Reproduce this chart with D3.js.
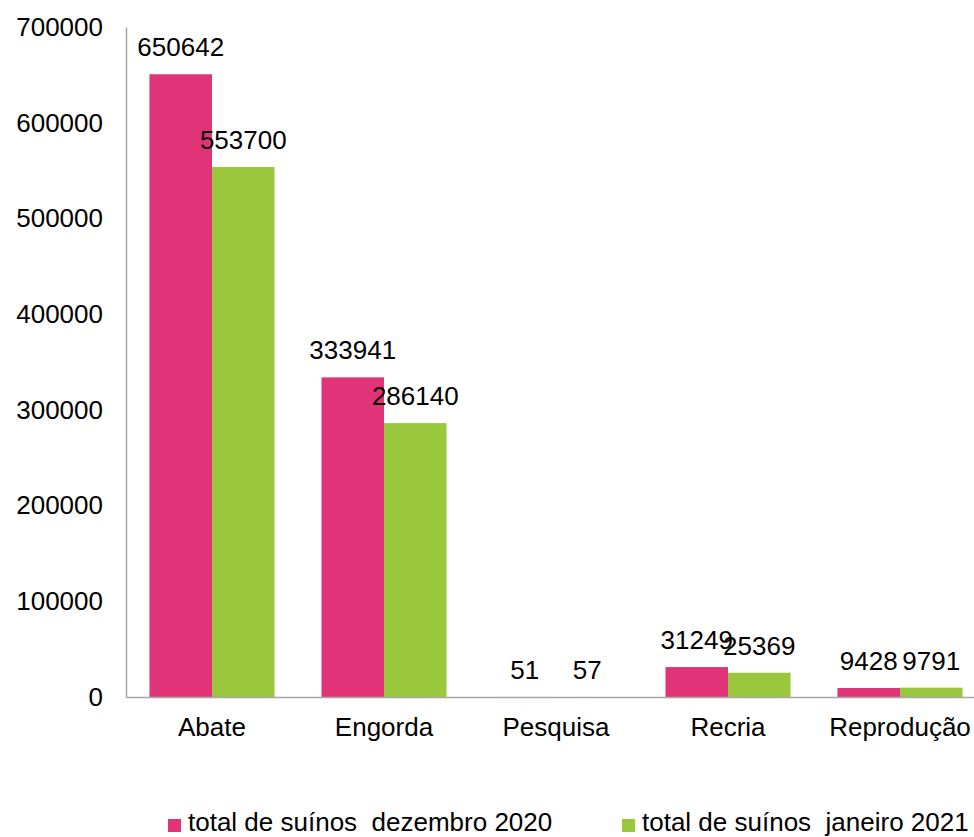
<!DOCTYPE html>
<html><head><meta charset="utf-8">
<script src="https://cdn.jsdelivr.net/npm/d3@7"></script>
<style>body{margin:0;background:#fff}svg{display:block}text{font-family:"Liberation Sans",Arial,sans-serif;fill:#000}</style>
</head><body>
<script>
const categories = ["Abate","Engorda","Pesquisa","Recria","Reprodução"];
const seriesNames = ["total de suínos  dezembro 2020","total de suínos  janeiro 2021"];
const dez2020 = [650642,333941,51,31249,9428];
const jan2021 = [553700,286140,57,25369,9791];
const yTicks = [0,100000,200000,300000,400000,500000,600000,700000];
const colors = ["#E03378","#9AC83D"];

const W=974,H=837;
const svg=d3.select("body").append("svg").attr("width",W).attr("height",H);
const x0=126,x1=986,y0=697,y1=27;
const x=d3.scaleBand().domain(categories).range([x0,x1]).paddingInner(0.273).paddingOuter(0.1365);
const xs=d3.scaleBand().domain([0,1]).range([0,x.bandwidth()]);
const y=d3.scaleLinear().domain([0,700000]).range([y0,y1]);
const series=[dez2020,jan2021];
const fs=26;

// y tick labels
const ya=d3.axisLeft(y).tickValues(yTicks).tickSize(0).tickPadding(23).tickFormat(d3.format("d"));
const gy=svg.append("g").attr("transform",`translate(${x0},0)`).call(ya);
gy.select(".domain").attr("stroke","#a6a6a6").attr("stroke-width",1.5);
gy.selectAll("text").attr("font-size",fs).attr("font-family","Liberation Sans, Arial, sans-serif").attr("fill","#000");

// bars
series.forEach((s,si)=>{
  svg.append("g").selectAll("rect").data(categories).join("rect")
    .attr("x",d=>x(d)+xs(si)).attr("width",xs.bandwidth())
    .attr("y",(d,i)=>y(s[i])).attr("height",(d,i)=>y0-y(s[i]))
    .attr("fill",colors[si]);
});

// x axis
const xa=d3.axisBottom(x).tickSize(0).tickPadding(21);
const gx=svg.append("g").attr("transform",`translate(0,${y0})`).call(xa);
gx.select(".domain").attr("stroke","#a6a6a6").attr("stroke-width",1.5);
gx.selectAll("text").attr("font-size",fs).attr("font-family","Liberation Sans, Arial, sans-serif").attr("fill","#000");

// data labels
series.forEach((s,si)=>{
  svg.append("g").selectAll("text").data(categories).join("text")
    .attr("x",d=>x(d)+xs(si)+xs.bandwidth()/2)
    .attr("y",(d,i)=>y(s[i])-18)
    .attr("text-anchor","middle").attr("font-size",fs)
    .text((d,i)=>s[i]);
});

// legend
const legX=[168,622];
seriesNames.forEach((n,i)=>{
  const g=svg.append("g").attr("transform",`translate(${legX[i]},0)`);
  g.append("rect").attr("x",0).attr("y",819).attr("width",13).attr("height",13).attr("fill",colors[i]);
  g.append("text").attr("x",20).attr("y",831).attr("font-size",fs).style("white-space","pre").text(n);
});
</script>
</body></html>
